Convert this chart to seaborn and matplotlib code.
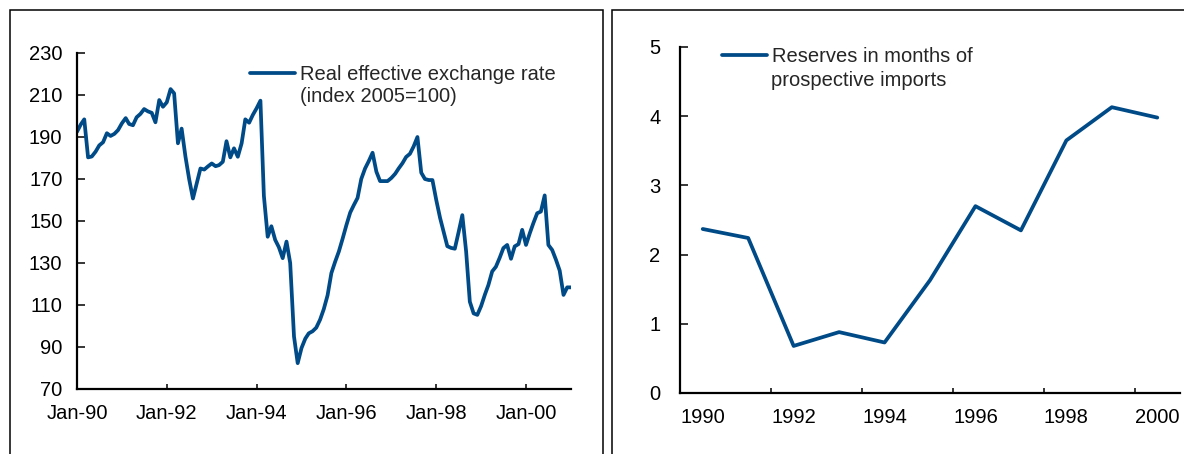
import numpy as np
import pandas as pd
import matplotlib
matplotlib.use("Agg")
import matplotlib.pyplot as plt
from matplotlib.patches import Rectangle
import seaborn as sns

# ---------------- data ----------------
reer_start = "1990-01-01"
reer_values = [
    192.5, 196.0, 198.4, 180.3, 180.7, 183.0, 186.0, 187.5, 191.8, 190.5, 191.5, 193.3,
    196.5, 199.0, 196.2, 195.6, 199.4, 201.0, 203.3, 202.2, 201.5, 197.0, 207.6, 204.4,
    206.5, 212.8, 210.8, 187.0, 194.0, 180.7, 170.0, 160.7, 168.0, 175.0, 174.5, 176.0,
    177.4, 176.1, 176.6, 178.2, 188.0, 180.3, 184.6, 180.6, 187.0, 198.4, 196.8, 200.5,
    203.7, 207.3, 162.0, 142.5, 147.5, 141.0, 137.5, 132.3, 140.2, 130.0, 95.0, 82.3,
    89.5, 94.0, 96.5, 97.5, 99.2, 103.0, 108.0, 114.6, 125.2, 130.5, 135.5, 141.5,
    148.0, 154.0, 157.5, 161.0, 170.0, 175.0, 178.5, 182.5, 173.5, 169.0, 169.0, 169.0,
    170.5, 172.5, 175.0, 177.5, 180.5, 182.0, 185.5, 190.0, 173.0, 170.0, 169.5, 169.5,
    160.0, 151.5, 145.0, 138.0, 137.2, 136.8, 144.5, 152.8, 135.5, 111.6, 106.0, 105.3,
    109.5, 115.0, 119.5, 126.0, 128.2, 132.5, 137.1, 138.6, 132.0, 137.9, 139.0, 145.8,
    138.6, 144.2, 149.0, 153.7, 154.5, 162.2, 138.6, 136.2, 131.5, 126.4, 114.8, 118.4,
    118.4,
]
reer_label = ["Real effective exchange rate", "(index 2005=100)"]
reer_yticks = [70, 90, 110, 130, 150, 170, 190, 210, 230]
reer_tick_years = [1990, 1992, 1994, 1996, 1998, 2000]
reer_tick_labels = ["Jan-90", "Jan-92", "Jan-94", "Jan-96", "Jan-98", "Jan-00"]

res_years = [1990, 1991, 1992, 1993, 1994, 1995, 1996, 1997, 1998, 1999, 2000]
res_values = [2.37, 2.24, 0.68, 0.88, 0.73, 1.63, 2.70, 2.35, 3.65, 4.13, 3.98]
res_label = ["Reserves in months of", "prospective imports"]
res_yticks = [0, 1, 2, 3, 4, 5]
res_tick_labels = ["1990", "1992", "1994", "1996", "1998", "2000"]

# ---------------- style ----------------
sns.set_style("white")
plt.rcParams["font.family"] = ["Liberation Sans", "DejaVu Sans"]
BLUE = "#004B87"
FS = 14.5
LW = 2.7

W, H = 1184, 454
fig = plt.figure(figsize=(W / 100, H / 100), dpi=100)


def fx(px):
    return px / W


def fy(py):
    return 1 - py / H


# panel frames
fig.patches.append(Rectangle((fx(10), fy(470)), fx(603) - fx(10), fy(10) - fy(470),
                             transform=fig.transFigure, fill=False, lw=1.1, ec="black"))
fig.patches.append(Rectangle((fx(612), fy(470)), fx(1200) - fx(612), fy(10) - fy(470),
                             transform=fig.transFigure, fill=False, lw=1.1, ec="black"))

# ---------------- left panel ----------------
ax1 = fig.add_axes([fx(77), fy(389), fx(571) - fx(77), fy(53) - fy(389)])
df1 = pd.DataFrame({
    "date": pd.date_range(reer_start, periods=len(reer_values), freq="MS"),
    "value": reer_values,
})
sns.lineplot(data=df1, x="date", y="value", ax=ax1, color=BLUE, lw=LW,
             label=reer_label[0])
ax1.set_xlim(pd.Timestamp("1990-01-01"), pd.Timestamp("2001-01-01"))
ax1.set_ylim(70, 230)
ax1.set_yticks(reer_yticks)
ax1.set_xticks([pd.Timestamp(f"{y}-01-01") for y in reer_tick_years])
ax1.set_xticklabels(reer_tick_labels)
ax1.set_xlabel("")
ax1.set_ylabel("")

# ---------------- right panel ----------------
ax2 = fig.add_axes([fx(680), fy(393), fx(1180) - fx(680), fy(47) - fy(393)])
df2 = pd.DataFrame({"pos": np.arange(len(res_years)), "value": res_values})
sns.lineplot(data=df2, x="pos", y="value", ax=ax2, color=BLUE, lw=LW,
             label=res_label[0])
ax2.set_xlim(-0.5, len(res_years) - 0.5)
ax2.set_ylim(0, 5)
ax2.set_yticks(res_yticks)
ax2.set_xticks(np.arange(-0.5, len(res_years) - 0.5, 2))
ax2.set_xticklabels([])
ax2.set_xticks(np.arange(0, len(res_years), 2), minor=True)
ax2.set_xticklabels(res_tick_labels, minor=True)
ax2.set_xlabel("")
ax2.set_ylabel("")

for ax, ypad, xpad in ((ax1, 10.5, 11), (ax2, 14.0, 11)):
    for s in ("top", "right"):
        ax.spines[s].set_visible(False)
    for s in ("left", "bottom"):
        ax.spines[s].set_color("black")
        ax.spines[s].set_linewidth(1.6)
    ax.tick_params(axis="y", which="major", direction="in", length=5.5, width=1.1,
                   pad=ypad, labelsize=FS, colors="black", left=True)
    ax.tick_params(axis="x", which="major", direction="in", length=3.5, width=1.1,
                   pad=xpad, labelsize=FS, colors="black", bottom=True)
    ax.set_facecolor("none")
ax2.tick_params(axis="x", which="minor", length=0, pad=11, labelsize=FS,
                colors="black", bottom=True)

# ---------------- legends ----------------
for ax, (hx, hy), tx, y2, lab in (
    (ax1, (250, 75), 300, 97, reer_label),
    (ax2, (722, 57), 771, 80, res_label),
):
    h, l = ax.get_legend_handles_labels()
    ax.legend(h, l, loc="center left", bbox_to_anchor=(fx(hx), fy(hy)),
              bbox_transform=fig.transFigure, frameon=False, borderpad=0,
              borderaxespad=0, handlelength=45 / 20.1, handletextpad=4.5 / 20.1,
              fontsize=FS)
    fig.text(fx(tx), fy(y2), lab[1], ha="left", va="center", fontsize=FS)

fig.savefig("out.png", dpi=100)
